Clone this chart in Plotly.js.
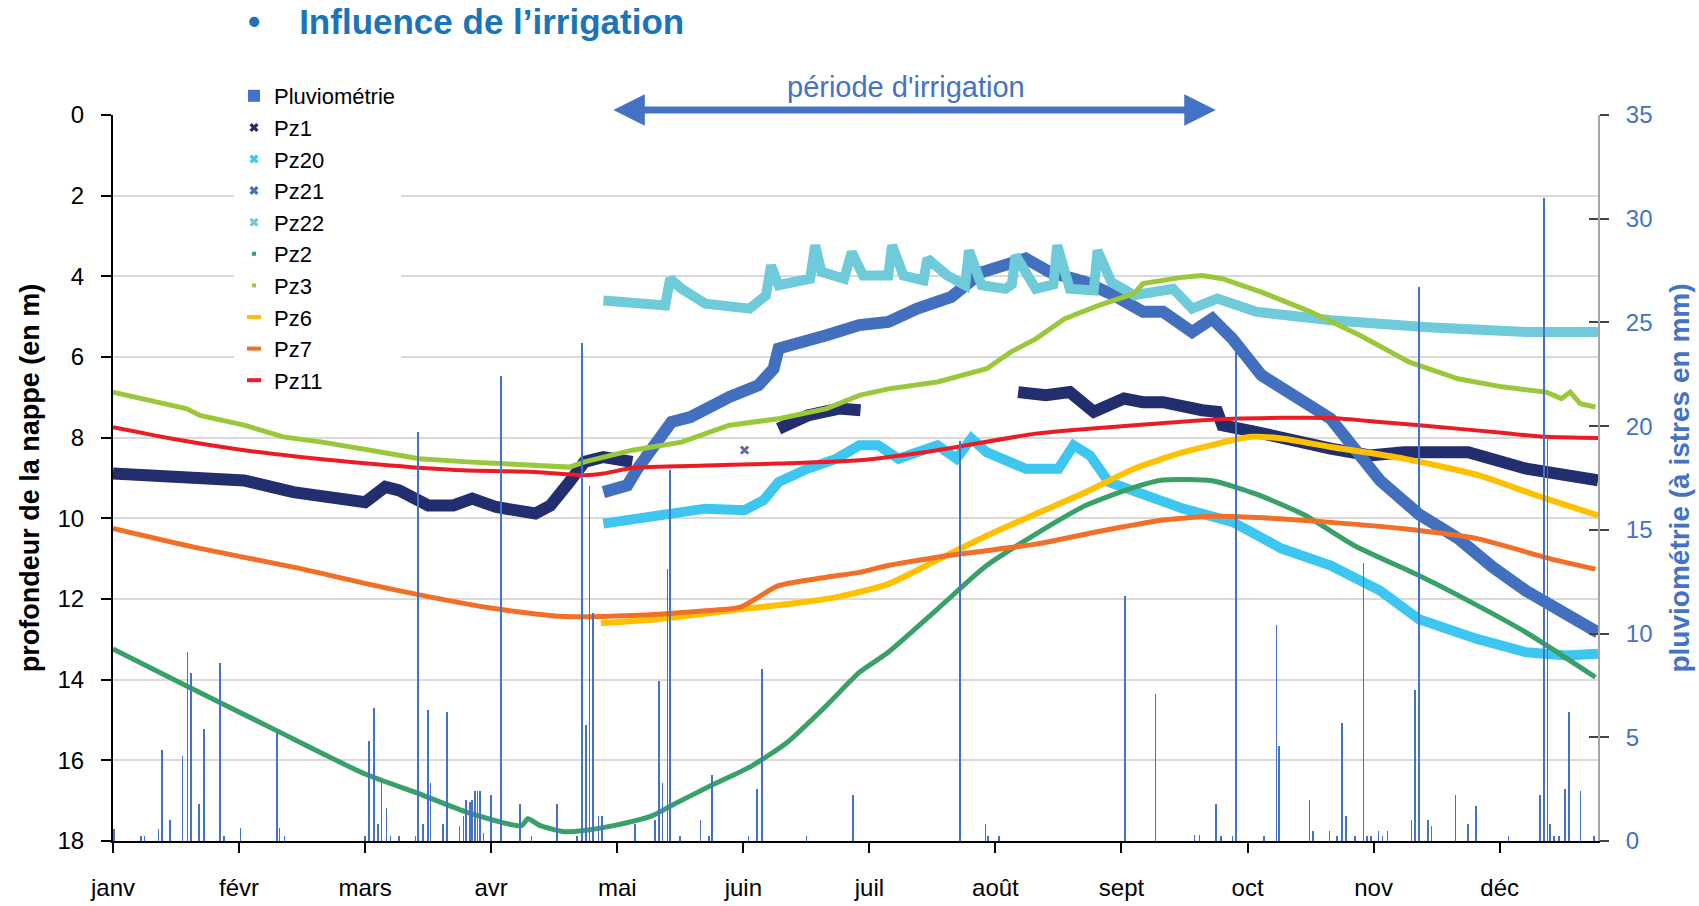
<!DOCTYPE html>
<html>
<head>
<meta charset="utf-8">
<script src="https://cdn.plot.ly/plotly-3.0.1.min.js"></script>
<style>html,body{margin:0;padding:0;background:#fff;}#chart{width:1699px;height:906px;}</style>
</head>
<body>
<div id="chart"></div>
<script>
// ---------- DATA ----------
const months = ['janv','févr','mars','avr','mai','juin','juil','août','sept','oct','nov','déc'];
const monthTicks = [0,1,2,3,4,5,6,7,8,9,10,11];

// x = position in months (0 = 1er janvier), depth in m
const pz1_m = [0,0.65,1.04,1.43,1.81,2.00,2.16,2.27,2.50,2.70,2.85,3.04,3.35,3.47,3.62,3.74,3.89,4.12,null,5.01,null,5.28,5.51,5.76,5.93,null,7.18,7.40,7.59,7.78,8.02,8.17,8.33,8.49,8.64,8.76,8.80,9.07,9.27,9.66,9.97,10.24,10.75,10.94,11.21,11.78];
const pz1_d = [8.89,8.98,9.06,9.35,9.55,9.60,9.22,9.31,9.68,9.68,9.51,9.72,9.88,9.68,9.10,8.60,8.48,8.60,null,8.31,null,7.78,7.45,7.28,7.32,null,6.87,6.95,6.87,7.36,7.03,7.12,7.12,7.24,7.32,7.36,7.69,7.86,8.02,8.27,8.44,8.36,8.36,8.52,8.77,9.06];

const pz20_m = [3.89,4.12,4.43,4.70,5.01,5.16,5.28,5.51,5.74,5.92,6.07,6.23,6.54,6.69,6.81,6.93,7.24,7.50,7.62,7.75,7.90,8.21,8.49,8.88,9.27,9.66,10.05,10.36,10.82,11.21,11.53,11.78];
const pz20_d = [10.13,10.01,9.88,9.76,9.80,9.55,9.10,8.77,8.52,8.19,8.19,8.52,8.19,8.52,8.02,8.36,8.77,8.77,8.19,8.44,9.10,9.43,9.76,10.09,10.75,11.17,11.79,12.50,12.99,13.32,13.40,13.36];

const pz21_m = [3.89,4.08,4.16,4.31,4.43,4.58,4.74,4.89,5.12,5.24,5.28,5.51,5.66,5.92,6.15,6.38,6.65,6.89,7.04,7.24,7.43,7.71,7.94,8.17,8.33,8.56,8.72,8.88,9.11,9.34,9.66,10.05,10.36,10.67,10.94,11.21,11.53,11.78];
const pz21_d = [9.35,9.18,8.77,8.11,7.61,7.49,7.20,6.99,6.70,6.29,5.79,5.55,5.46,5.21,5.13,4.80,4.51,3.90,3.73,3.56,3.89,4.14,4.47,4.88,4.88,5.38,5.05,5.55,6.45,6.87,7.53,9.06,9.90,10.50,11.20,11.80,12.40,12.83];

const pz22_m = [3.89,4.12,4.38,4.42,4.51,4.70,4.89,5.05,5.18,5.22,5.28,5.53,5.57,5.62,5.80,5.86,5.95,6.15,6.18,6.27,6.43,6.46,6.62,6.76,6.79,6.89,7.08,7.13,7.16,7.32,7.46,7.49,7.59,7.78,7.81,7.92,8.10,8.41,8.56,8.76,9.07,9.66,10.43,11.21,11.78];
const pz22_d = [4.60,4.64,4.72,4.06,4.31,4.68,4.72,4.80,4.47,3.73,4.22,4.06,3.23,3.89,4.06,3.40,3.98,3.98,3.23,3.98,4.10,3.56,3.98,4.22,3.36,4.22,4.31,4.20,3.48,4.31,4.20,3.23,4.31,4.35,3.36,4.14,4.47,4.31,4.80,4.55,4.88,5.09,5.26,5.38,5.38];

const pz2_m = [0,0.58,1.27,2.00,2.43,2.81,3.24,3.29,3.39,3.58,3.74,3.97,4.28,4.43,4.74,5.05,5.35,5.66,5.92,6.15,6.54,6.93,7.32,7.71,8.10,8.33,8.72,9.07,9.46,9.85,10.36,10.75,11.21,11.76];
const pz2_d = [13.24,14.15,15.22,16.34,16.83,17.29,17.62,17.45,17.62,17.77,17.74,17.62,17.37,17.12,16.63,16.17,15.55,14.64,13.82,13.32,12.25,11.17,10.39,9.69,9.23,9.05,9.07,9.40,9.93,10.68,11.42,12.04,12.83,13.94];

const pz3_m = [0,0.27,0.58,0.69,1.04,1.35,1.66,2.04,2.43,2.81,3.27,3.62,3.74,4.12,4.51,4.89,5.28,5.66,5.92,6.15,6.54,6.93,7.12,7.32,7.55,7.82,8.10,8.17,8.49,8.64,8.80,9.11,9.50,9.89,10.28,10.67,11.02,11.37,11.49,11.56,11.64,11.76];
const pz3_d = [6.87,7.07,7.28,7.45,7.69,7.98,8.11,8.31,8.52,8.60,8.69,8.73,8.60,8.31,8.11,7.69,7.53,7.28,6.95,6.79,6.62,6.29,5.88,5.55,5.05,4.72,4.43,4.18,4.02,3.98,4.06,4.39,4.88,5.46,6.12,6.54,6.74,6.87,7.03,6.87,7.16,7.24];

const pz6_m = [3.87,4.32,4.89,5.47,5.76,6.15,6.54,6.93,7.32,7.71,8.10,8.49,9.03,9.27,9.66,10.24,10.83,11.29,11.78];
const pz6_d = [12.60,12.50,12.29,12.08,11.94,11.63,11.03,10.43,9.89,9.36,8.77,8.36,7.98,8.02,8.23,8.52,8.93,9.43,9.93];

const pz7_m = [0,0.65,1.43,2.20,2.97,3.54,4.12,4.70,4.97,5.28,5.66,5.92,6.15,6.73,7.32,7.78,8.29,8.72,9.07,9.66,10.24,10.83,11.41,11.76];
const pz7_d = [10.25,10.72,11.21,11.75,12.21,12.43,12.41,12.29,12.21,11.67,11.46,11.34,11.17,10.88,10.64,10.35,10.06,9.95,9.98,10.10,10.26,10.51,11.01,11.26];

const pz11_m = [0,0.46,1.04,1.62,2.20,2.77,3.35,3.74,3.89,4.12,4.70,5.28,5.92,6.54,7.32,8.10,8.88,9.66,10.05,10.43,11.02,11.37,11.78];
const pz11_d = [7.74,8.02,8.31,8.52,8.69,8.81,8.85,8.93,8.89,8.75,8.69,8.64,8.56,8.31,7.90,7.69,7.53,7.51,7.61,7.71,7.88,7.98,8.01];

// rainfall (mm) at Istres
const rain_m = [0.01,0.22,0.25,0.36,0.39,0.45,0.55,0.59,0.62,0.68,0.72,0.85,0.88,1.01,1.30,1.32,1.36,2.00,2.03,2.07,2.10,2.13,2.17,2.20,2.27,2.40,2.42,2.46,2.50,2.52,2.62,2.65,2.75,2.78,2.80,2.83,2.85,2.87,2.89,2.91,2.94,3.00,3.08,3.23,3.32,3.52,3.68,3.72,3.75,3.78,3.81,3.85,3.88,4.14,4.30,4.33,4.36,4.40,4.42,4.50,4.66,4.73,4.75,5.04,5.11,5.15,5.50,5.87,6.72,6.92,6.94,7.03,8.03,8.27,8.58,8.62,8.75,8.79,8.88,8.91,9.13,9.23,9.25,9.49,9.52,9.65,9.71,9.75,9.78,9.85,9.92,9.95,9.98,10.04,10.07,10.11,10.30,10.33,10.36,10.43,10.46,10.65,10.75,10.81,11.07,11.32,11.35,11.38,11.40,11.43,11.47,11.52,11.55,11.64,11.75];
const rain_mm = [0.6,0.25,0.25,0.6,4.4,1.0,4.1,9.1,8.1,1.8,5.4,8.6,0.25,0.65,5.2,0.65,0.25,0.25,4.8,6.4,0.8,2.9,1.6,0.25,0.25,0.25,19.7,0.8,6.3,2.8,0.8,6.2,0.7,1.2,2.0,1.9,2.0,2.4,2.4,2.4,0.4,2.2,22.4,1.8,0.25,1.8,0.25,24.0,5.6,17.1,11.0,1.2,1.2,0.8,1.0,7.7,2.8,13.1,17.9,0.25,1.0,0.25,3.2,0.25,2.5,8.3,0.25,2.2,19.3,0.8,0.25,0.25,11.8,7.1,0.3,0.3,1.8,0.25,0.25,23.6,0.25,10.4,4.6,2.0,0.5,0.5,0.25,5.7,1.2,0.25,13.4,0.25,0.25,0.5,0.25,0.5,1.0,7.3,26.7,1.0,0.7,2.2,0.8,1.7,0.25,2.2,31.0,19.5,0.8,0.25,0.25,2.5,6.2,2.4,0.25];

// ---------- STYLE ----------
const FONT = 'Liberation Sans, Arial, Helvetica, sans-serif';
const BLUE = '#4472C4';
const series = [
  {name:'Pz1',  m:pz1_m,  d:pz1_d,  color:'#222E6E', w:12, shape:'linear', sym:'x'},
  {name:'Pz20', m:pz20_m, d:pz20_d, color:'#3CC6F0', w:10, shape:'linear', sym:'x'},
  {name:'Pz21', m:pz21_m, d:pz21_d, color:'#4270BE', w:12, shape:'linear', sym:'x'},
  {name:'Pz22', m:pz22_m, d:pz22_d, color:'#6FCAD9', w:10, shape:'linear', sym:'x'},
  {name:'Pz2',  m:pz2_m,  d:pz2_d,  color:'#3AA06A', w:5,  shape:'spline', sym:'square'},
  {name:'Pz3',  m:pz3_m,  d:pz3_d,  color:'#9BC83B', w:5,  shape:'linear', sym:'square'},
  {name:'Pz6',  m:pz6_m,  d:pz6_d,  color:'#FFC000', w:6,  shape:'spline', sym:'line-ew'},
  {name:'Pz7',  m:pz7_m,  d:pz7_d,  color:'#F26F28', w:5,  shape:'spline', sym:'line-ew'},
  {name:'Pz11', m:pz11_m, d:pz11_d, color:'#EC1C24', w:4,  shape:'spline', sym:'line-ew'}
];

const traces = [];
series.forEach(s => {
  // isolated points (no neighbours) are drawn as a marker
  const sizes = s.m.map((v,i) => (v !== null && (i===0 || s.m[i-1]===null) && (i===s.m.length-1 || s.m[i+1]===null)) ? 9 : 0);
  traces.push({
    type:'scatter', mode:'lines+markers', x:s.m, y:s.d, name:s.name, showlegend:false,
    connectgaps:false, hoverinfo:'skip',
    line:{color:s.color, width:s.w, shape:s.shape, smoothing:0.6},
    marker:{symbol:'x', size:sizes, color:s.color},
    xaxis:'x', yaxis:'y'
  });
});

traces.push({
  type:'bar', x:rain_m, y:rain_mm, name:'Pluviométrie', width:0.013,
  marker:{color:BLUE, line:{width:0}}, xaxis:'x', yaxis:'y2', hoverinfo:'skip'
});

series.forEach(s => {
  const mk = s.sym === 'x' ? {symbol:'x', size:8, color:s.color}
           : s.sym === 'square' ? {symbol:'square', size:4, color:s.color}
           : {symbol:'line-ew', size:10, color:s.color, line:{color:s.color, width:4}};
  traces.push({type:'scatter', mode:'markers', x:[null], y:[null], name:s.name, marker:mk, xaxis:'x', yaxis:'y', hoverinfo:'skip'});
});

const layout = {
  width:1699, height:906,
  margin:{l:113, r:101, t:115, b:65, pad:0},
  paper_bgcolor:'#ffffff', plot_bgcolor:'#ffffff',
  font:{family:FONT, color:'#000000', size:24},
  title:{
    text:'•&nbsp;&nbsp;&nbsp;&nbsp;Influence de l’irrigation',
    font:{family:FONT, size:35, color:'#1A75B8', weight:'bold'},
    xref:'container', yref:'container', x:248/1699, xanchor:'left', y:1-22/906, yanchor:'middle'
  },
  showlegend:true,
  legend:{
    x:(234-113)/1485, xanchor:'left', y:1+(115-75)/726, yanchor:'top',
    bgcolor:'#ffffff', borderwidth:0, font:{family:FONT, size:22, color:'#000'},
    traceorder:'normal', itemwidth:30, tracegroupgap:0
  },
  xaxis:{
    range:[0,11.78], tickmode:'array', tickvals:monthTicks, ticktext:months,
    ticks:'outside', ticklen:10, tickwidth:2, tickcolor:'#000',
    showline:true, linecolor:'#000', linewidth:2, showgrid:false, zeroline:false,
    tickfont:{family:FONT, size:24, color:'#000'}, ticklabelstandoff:14, fixedrange:true
  },
  yaxis:{
    range:[18,0], tickmode:'linear', tick0:0, dtick:2,
    ticks:'outside', ticklen:10, tickwidth:2, tickcolor:'#000',
    showline:true, linecolor:'#000', linewidth:2,
    showgrid:true, gridcolor:'#d9d9d9', gridwidth:2, zeroline:false,
    tickfont:{family:FONT, size:24, color:'#000'}, ticklabelstandoff:12,
    title:{text:'profondeur de la nappe (en m)', font:{family:FONT, size:27, color:'#000', weight:'bold'}, standoff:10}
  },
  yaxis2:{
    overlaying:'y', side:'right', anchor:'x', range:[0,35], tickmode:'linear', tick0:0, dtick:5,
    ticks:'outside', ticklen:9, tickwidth:2, tickcolor:'#444',
    showline:true, linecolor:'#a6a6a6', linewidth:2, showgrid:false, zeroline:false,
    tickfont:{family:FONT, size:24, color:BLUE}, ticklabelstandoff:12,
    title:{text:'pluviométrie (à istres en mm)', font:{family:FONT, size:28, color:BLUE, weight:'bold'}, standoff:18}
  },
  yaxis3:{
    overlaying:'y', side:'right', anchor:'x', range:[0,35], tickmode:'linear', tick0:0, dtick:5,
    ticks:'inside', ticklen:9, tickwidth:2, tickcolor:'#444',
    showticklabels:false, showline:false, showgrid:false, zeroline:false
  },
  bargap:0,
  annotations:[
    {text:'période d\'irrigation', xref:'x', yref:'paper', x:6.29, y:1+(115-87)/726,
     showarrow:false, font:{family:FONT, size:29, color:BLUE}, xanchor:'center', yanchor:'middle'},
    {text:'', xref:'x', yref:'paper', axref:'x', ayref:'paper',
     x:8.748, y:1+(115-110)/726, ax:3.957, ay:1+(115-110)/726,
     showarrow:true, arrowside:'end+start', arrowhead:2, startarrowhead:2,
     arrowsize:0.9, startarrowsize:0.9, arrowwidth:7, arrowcolor:BLUE, standoff:0, startstandoff:0}
  ]
};

// dummy trace so yaxis3 (inside ticks of the right axis) is drawn
traces.push({type:'scatter', mode:'lines', x:[null], y:[null], yaxis:'y3', xaxis:'x', showlegend:false, hoverinfo:'skip'});

Plotly.newPlot('chart', traces, layout, {displayModeBar:false, staticPlot:true});
</script>
</body>
</html>
